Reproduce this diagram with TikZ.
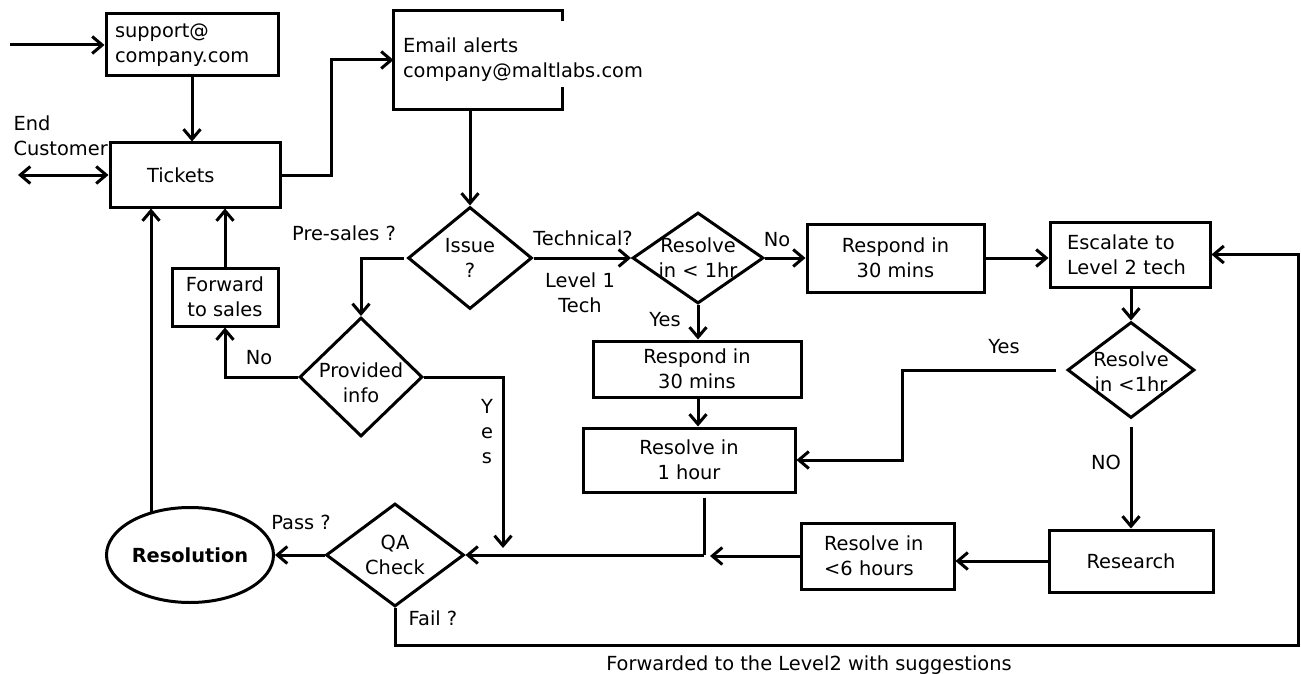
\documentclass[tikz,border=0pt]{standalone}
\usepackage{fontspec}
\setmainfont{DejaVu Sans}
\usetikzlibrary{shapes.geometric,arrows.meta,calc}
\newcommand\dfs{\fontsize{19.4}{25}\selectfont}
\begin{document}
\begin{tikzpicture}[x=1pt,y=-1pt, line width=3pt,
  every node/.style={font=\dfs},
  box/.style={draw, rectangle, inner sep=0pt, align=center, line width=3pt},
  dia/.style={draw, diamond, inner sep=0pt, line width=3pt},
  lbl/.style={align=center, inner sep=0pt},
  arr/.style={-{Straight Barb[length=10pt,width=17pt]}},
]
\useasboundingbox (0,0) rectangle (1301,674);
\fill[white] (0,0) rectangle (1301,674);

% boxes
\node[box, minimum width=172pt, minimum height=62pt, text width=154pt, align=left] (sup) at (192,45) {support@\\company.com};
\node[minimum width=166pt, minimum height=96pt, text width=150pt, align=left, inner sep=0pt] (email) at (478,60) {Email alerts\\\mbox{company@maltlabs.com}};
\draw ($(email.north east)+(0,11)$) -- (email.north east) -- (email.north west) -- (email.south west) -- (email.south east) -- ++(0,-22);
\node[box, minimum width=170pt, minimum height=64pt, text width=96pt, align=left] (tick) at (195,175) {Tickets};
\node[lbl, align=left, anchor=west] (endc) at (12,135.5) {End\\Customer};
\node[box, minimum width=106pt, minimum height=58pt] (fwd) at (225,297) {Forward\\to sales};
\node[box, minimum width=177pt, minimum height=68pt] (resp1) at (895.5,258) {Respond in\\30 mins};
\node[box, minimum width=160pt, minimum height=65pt, text width=126pt, align=left] (esc) at (1130,254.5) {Escalate to\\Level 2 tech};
\node[box, minimum width=208pt, minimum height=56pt] (resp2) at (697,369) {Respond in\\30 mins};
\node[box, minimum width=212pt, minimum height=64pt] (r1h) at (689,460) {Resolve in\\1 hour};
\node[box, minimum width=153pt, minimum height=66pt, text width=107pt, align=left] (r6h) at (877.5,556) {Resolve in\\<6 hours};
\node[box, minimum width=164pt, minimum height=62pt] (research) at (1131,561) {Research};
\node[draw, ellipse, line width=3pt, minimum width=167pt, minimum height=95pt, inner sep=0pt, font=\dfs\bfseries] (resol) at (190,555) {Resolution};

% diamonds
\node[dia, minimum width=124pt, minimum height=102pt] (issue) at (470,258) {};
\node[lbl] (issuet) at (470,258) {Issue\\?};
\node[dia, minimum width=131pt, minimum height=91pt] (res1) at (698,258) {};
\node[lbl] (res1t) at (698,258) {Resolve\\in < 1hr};
\node[dia, minimum width=127pt, minimum height=96pt] (res2) at (1131,370) {};
\node[lbl] (res2t) at (1131,372) {Resolve\\in <1hr};
\node[dia, minimum width=123pt, minimum height=119pt] (prov) at (361,377) {};
\node[lbl] (provt) at (361,383) {Provided\\info};
\node[dia, minimum width=138pt, minimum height=103pt] (qa) at (395,555) {};
\node[lbl] (qat) at (395,555) {QA\\Check};

% labels
\node[lbl] (lpre) at (344,233) {Pre-sales ?};
\node[lbl] (ltech) at (583,238) {Technical?};
\node[lbl] (llev) at (580,293) {Level 1\\Tech};
\node[lbl] (lno1) at (777,240) {No};
\node[lbl] (lyes1) at (665,320) {Yes};
\node[lbl] (lyes2) at (1004,347) {Yes};
\node[lbl] (lno2) at (1106,462) {NO};
\node[lbl] (lno3) at (259,358) {No};
\node[lbl] (lyes3) at (487,432) {Y\\e\\s};
\node[lbl] (lpass) at (301,522) {Pass ?};
\node[lbl] (lfail) at (433,618) {Fail ?};
\node[lbl] (lfwd) at (809,665) {Forwarded to the Level2 with suggestions};

% coordinates
\coordinate (in) at (10,45);
\coordinate (ec) at (18,175);
\coordinate (j1) at (704,555);
\coordinate (yend) at (503,548);
\coordinate (rs) at (151,513);
\coordinate (lp) at (1298,645);

% connectors
\draw[arr] (in) -- (sup.west);
\draw[{Straight Barb[length=10pt,width=17pt]}-{Straight Barb[length=10pt,width=17pt]}] (ec) -- (tick.west);
\draw[arr] (sup.south) -- (sup.south |- tick.north);
\draw[arr] (tick.east) -- ++(50,0) |- (email.west);
\draw[arr] (issue.north |- email.south) -- (issue.north);
\draw[arr, shorten <=3pt] (issue.west) -| (prov.north);
\draw[arr] (issue.east) -- (res1.west);
\draw[arr] (res1.east) -- (resp1.west);
\draw[arr] (resp1.east) -- (resp1.east -| esc.west);
\draw[arr] (res2.north |- esc.south) -- (res2.north);
\draw[arr, shorten <=10pt] (res2.west) -- ++(-164,0) |- (r1h.east);
\draw[arr, shorten <=7pt] (res2.south) -- (research.north);
\draw[arr] (res1.south) -- (res1.south |- resp2.north);
\draw[arr] (res1.south |- resp2.south) -- (res1.south |- r1h.north);
\draw[shorten <=4pt] (r1h.south -| j1) -- (j1);
\draw[arr] (research.west) -- (research.west -| r6h.east);
\draw[arr] (r6h.west) -- ($(j1 |- r6h.west)+(6,0)$);
\draw[arr] (j1) -- (qa.east);
\draw[arr] (prov.east) -| (yend);
\draw[arr] (prov.west) -| (fwd.south);
\draw[arr] (fwd.north) -- (fwd.north |- tick.south);
\draw[arr] (rs) -- (rs |- tick.south);
\draw[arr] (qa.west) -- (resol.east);
\draw[arr] (qa.south) |- (lp) |- (esc.east);
\end{tikzpicture}
\end{document}
